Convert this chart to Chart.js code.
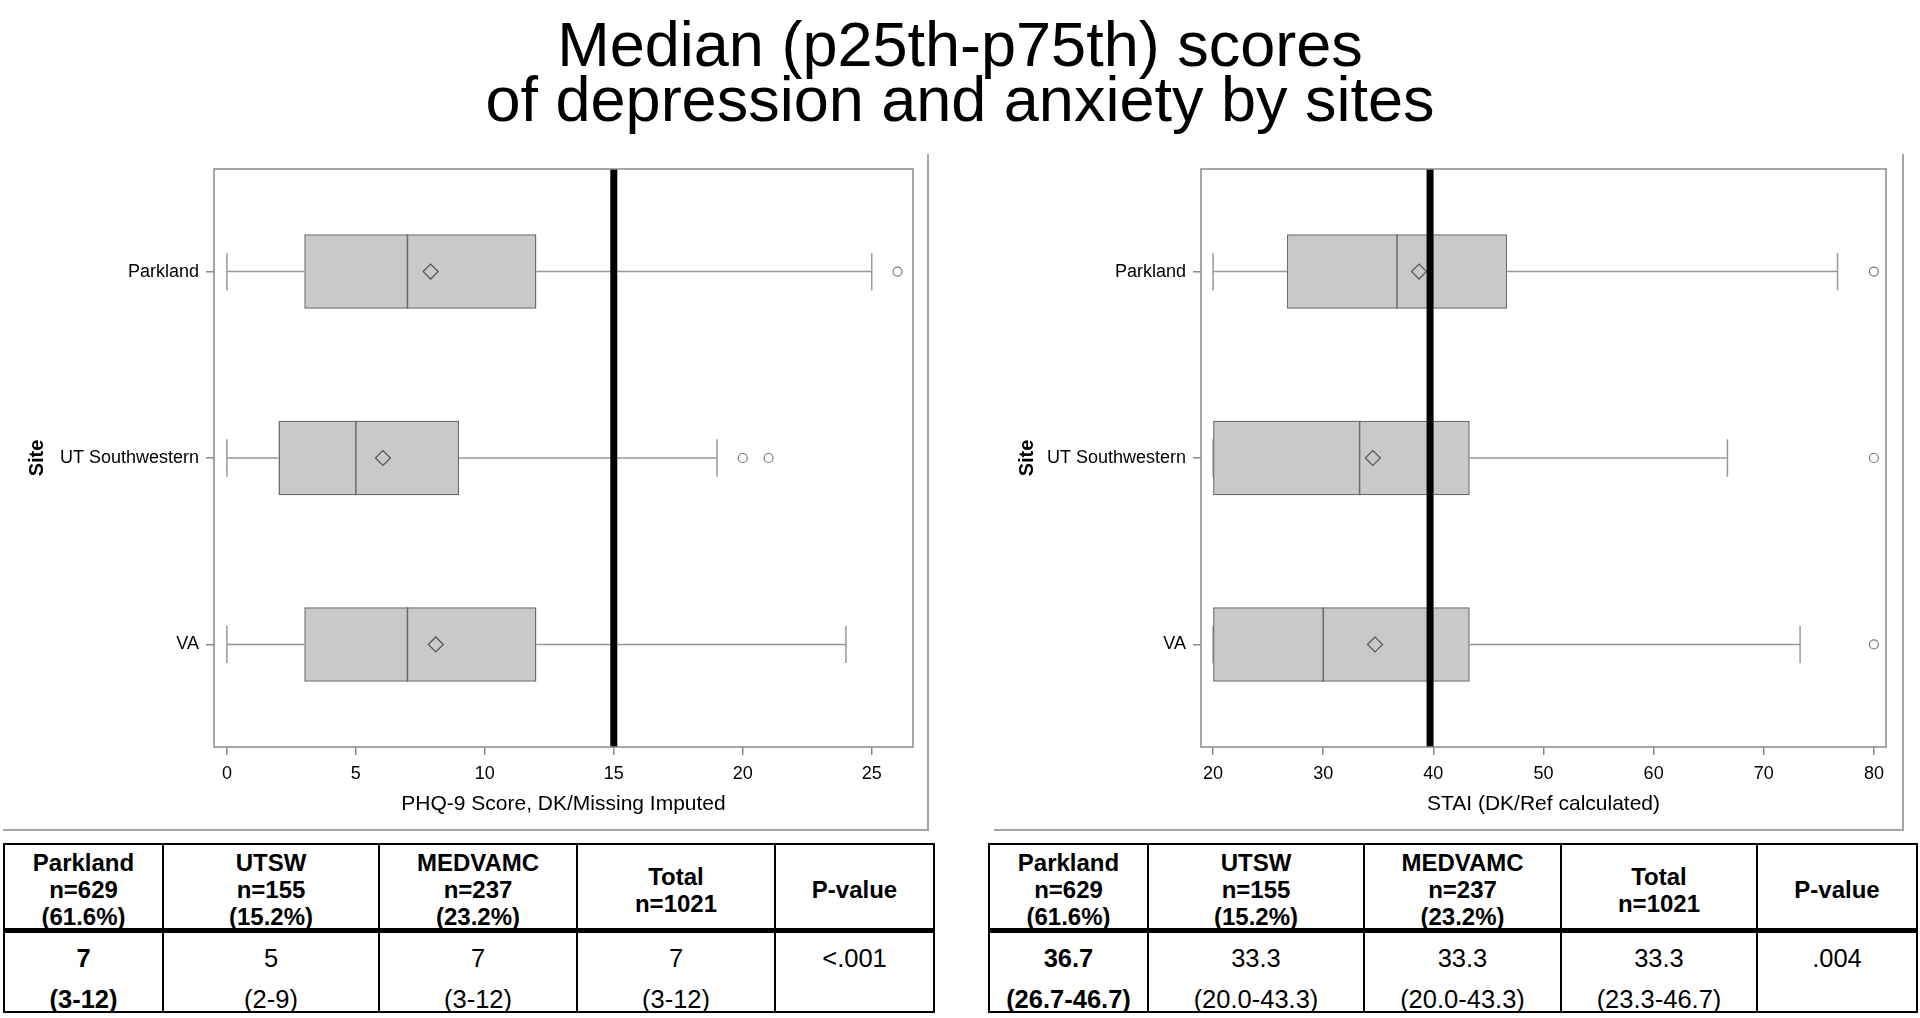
<!DOCTYPE html>
<html lang="en">
<head>
  <meta charset="UTF-8">
  <title>Median (p25th-p75th) scores of depression and anxiety by sites</title>
  <script src="https://cdn.jsdelivr.net/npm/chart.js"></script>
  <style>
    html, body {
      margin: 0;
      padding: 0;
      background: #fff;
    }

    body {
      position: relative;
      width: 1920px;
      height: 1018px;
      overflow: hidden;
      font-family: "Liberation Sans", Arial, sans-serif;
      color: #000;
    }

    .title {
      position: absolute;
      left: 0;
      top: 17px;
      width: 1920px;
      text-align: center;
      font-size: 63px;
      line-height: 55px;
    }

    canvas {
      position: absolute;
      top: 0;
    }

    .rule {
      position: absolute;
      background: #a4a4a4;
    }

    table {
      position: absolute;
      top: 843px;
      border-collapse: collapse;
      table-layout: fixed;
      text-align: center;
    }

    th, td {
      border: 2px solid #000;
      padding: 0;
    }

    thead tr {
      border-bottom: 5px solid #000;
    }

    .head {
      box-sizing: border-box;
      height: 83px;
      padding-top: 6px;
      display: flex;
      flex-direction: column;
      justify-content: center;
      font-size: 24px;
      line-height: 27px;
      font-weight: bold;
    }

    .body {
      box-sizing: border-box;
      height: 78px;
      padding-top: 13px;
      font-size: 25.5px;
      line-height: 24px;
      font-weight: normal;
    }

    .body .rng { margin-top: 17px; }
    .body.first { font-weight: bold; }
  </style>
</head>
<body>
<div class="title">Median (p25th-p75th) scores<br>of depression and anxiety by sites</div>

<canvas id="phqChart" width="960" height="840" style="left:0"></canvas>
<canvas id="staiChart" width="960" height="840" style="left:960px"></canvas>

<!-- panel edges -->
<div class="rule" style="left:927px;top:154px;width:2px;height:677px"></div>
<div class="rule" style="left:3px;top:829px;width:926px;height:2px"></div>
<div class="rule" style="left:1902px;top:154px;width:2px;height:677px"></div>
<div class="rule" style="left:994px;top:829px;width:910px;height:2px"></div>

<table id="phqTable" style="left:3px;width:930px">
  <colgroup><col style="width:159px"><col style="width:216px"><col style="width:198px"><col style="width:198px"><col style="width:159px"></colgroup>
</table>
<table id="staiTable" style="left:988px;width:928px">
  <colgroup><col style="width:159px"><col style="width:216px"><col style="width:197px"><col style="width:196px"><col style="width:160px"></colgroup>
</table>

<script>
  const FONT = '"Liberation Sans", Arial, sans-serif';

  const sites = ['Parkland', 'UT Southwestern', 'VA'];

  // PHQ-9 box plot (left)
  const phqLow = [0, 0, 0];
  const phqQ1 = [3, 2, 3];
  const phqMedian = [7, 5, 7];
  const phqQ3 = [12, 9, 12];
  const phqHigh = [25, 19, 24];
  const phqMean = [7.9, 6.05, 8.1];
  const phqOutliers = [[26], [20, 21], []];
  const phqCutoff = 15;
  const phqTicks = [0, 5, 10, 15, 20, 25];

  // STAI box plot (right)
  const staiLow = [20, 20, 20];
  const staiQ1 = [26.7, 20, 20];
  const staiMedian = [36.7, 33.3, 30];
  const staiQ3 = [46.7, 43.3, 43.3];
  const staiHigh = [76.7, 66.7, 73.3];
  const staiMean = [38.7, 34.5, 34.7];
  const staiOutliers = [[80], [80], [80]];
  const staiCutoff = 39.7;
  const staiTicks = [20, 30, 40, 50, 60, 70, 80];

  // tables under the plots
  const tableHeads = [
    ['Parkland', 'n=629', '(61.6%)'],
    ['UTSW', 'n=155', '(15.2%)'],
    ['MEDVAMC', 'n=237', '(23.2%)'],
    ['Total', 'n=1021'],
    ['P-value']
  ];
  const phqMedianCells = ['7', '5', '7', '7'];
  const phqRangeCells = ['(3-12)', '(2-9)', '(3-12)', '(3-12)'];
  const phqPValue = '<.001';
  const staiMedianCells = ['36.7', '33.3', '33.3', '33.3'];
  const staiRangeCells = ['(26.7-46.7)', '(20.0-43.3)', '(20.0-43.3)', '(23.3-46.7)'];
  const staiPValue = '.004';

  function boxPlot(canvasId, d) {
    const outlierPts = [];
    d.outliers.forEach((list, i) => list.forEach(v => outlierPts.push({x: v, y: i})));

    const extras = {
      id: 'boxExtras',
      beforeDatasetsDraw(chart) {
        const {ctx, scales: {x, y}} = chart;
        const cap = Math.abs(y.getPixelForValue(0.1) - y.getPixelForValue(0));
        ctx.save();
        ctx.strokeStyle = '#999';
        ctx.lineWidth = 1.5;
        ctx.beginPath();
        sites.forEach((s, i) => {
          const py = y.getPixelForValue(i);
          const xl = x.getPixelForValue(d.low[i]);
          const xh = x.getPixelForValue(d.high[i]);
          ctx.moveTo(xl, py);
          ctx.lineTo(x.getPixelForValue(d.q1[i]), py);
          ctx.moveTo(x.getPixelForValue(d.q3[i]), py);
          ctx.lineTo(xh, py);
          ctx.moveTo(xl, py - cap);
          ctx.lineTo(xl, py + cap);
          ctx.moveTo(xh, py - cap);
          ctx.lineTo(xh, py + cap);
        });
        ctx.stroke();
        ctx.restore();
      },
      afterDatasetDraw(chart, args) {
        if (args.index !== 0) return;
        // median line inside each box
        const {ctx, scales: {x, y}} = chart;
        const half = Math.abs(y.getPixelForValue(0.2) - y.getPixelForValue(0));
        ctx.save();
        ctx.strokeStyle = '#6b6b6b';
        ctx.lineWidth = 1.5;
        ctx.beginPath();
        sites.forEach((s, i) => {
          const px = x.getPixelForValue(d.median[i]);
          const py = y.getPixelForValue(i);
          ctx.moveTo(px, py - half);
          ctx.lineTo(px, py + half);
        });
        ctx.stroke();
        ctx.restore();
      },
      afterDatasetsDraw(chart) {
        const {ctx, chartArea: a, scales: {x}} = chart;
        ctx.save();
        // cut-off line
        const cx = x.getPixelForValue(d.cutoff);
        ctx.strokeStyle = '#000';
        ctx.lineWidth = 7;
        ctx.beginPath();
        ctx.moveTo(cx, a.top);
        ctx.lineTo(cx, a.bottom);
        ctx.stroke();
        // plot frame
        ctx.strokeStyle = '#8a8a8a';
        ctx.lineWidth = 1.5;
        ctx.strokeRect(a.left, a.top, a.right - a.left, a.bottom - a.top);
        ctx.restore();
      }
    };

    return new Chart(document.getElementById(canvasId), {
      type: 'bar',
      data: {
        datasets: [{
          type: 'bar',
          order: 3,
          data: sites.map((s, i) => ({x: [d.q1[i], d.q3[i]], y: i})),
          backgroundColor: '#c9c9c9',
          borderColor: '#6b6b6b',
          borderWidth: 1.5,
          borderSkipped: false,
          barPercentage: 0.4,
          categoryPercentage: 1
        }, {
          type: 'scatter',
          order: 1,
          data: sites.map((s, i) => ({x: d.mean[i], y: i})),
          pointStyle: 'rectRot',
          pointRadius: 7.5,
          borderColor: '#555',
          borderWidth: 1.2,
          backgroundColor: 'rgba(0,0,0,0)'
        }, {
          type: 'scatter',
          order: 2,
          data: outlierPts,
          pointStyle: 'circle',
          pointRadius: 4.5,
          borderColor: '#777',
          borderWidth: 1.2,
          backgroundColor: '#fff'
        }]
      },
      options: {
        indexAxis: 'y',
        responsive: false,
        animation: false,
        devicePixelRatio: 1,
        layout: { padding: { top: 169, right: d.padRight, bottom: 0, left: 0 } },
        plugins: { legend: { display: false }, tooltip: { enabled: false } },
        scales: {
          x: {
            type: 'linear',
            offset: false,
            min: d.xMin,
            max: d.xMax,
            afterBuildTicks: s => { s.ticks = d.ticks.map(v => ({value: v})); },
            afterFit: s => { s.height = 93; },
            border: { display: false },
            grid: { offset: false, drawOnChartArea: false, tickLength: 8, color: '#8a8a8a', lineWidth: 1.5 },
            ticks: { color: '#000', padding: 8, maxRotation: 0, autoSkip: false, font: { family: FONT, size: 18 } },
            title: { display: true, text: d.xTitle, color: '#000', font: { family: FONT, size: 21 }, padding: { top: 0, bottom: 23 } }
          },
          y: {
            type: 'linear',
            offset: false,
            reverse: true,
            min: -0.55,
            max: 2.55,
            afterBuildTicks: s => { s.ticks = sites.map((c, i) => ({value: i})); },
            afterFit: s => { s.width = d.axisWidth; },
            border: { display: false },
            grid: { offset: false, drawOnChartArea: false, tickLength: 8, color: '#8a8a8a', lineWidth: 1.5 },
            ticks: { color: '#000', padding: 7, callback: v => sites[v], font: { family: FONT, size: 18 } },
            title: { display: true, text: 'Site', color: '#000', font: { family: FONT, size: 20, weight: 'bold' }, padding: { top: d.titlePad, bottom: 0 } }
          }
        }
      },
      plugins: [extras]
    });
  }

  boxPlot('phqChart', {
    low: phqLow, q1: phqQ1, median: phqMedian, q3: phqQ3, high: phqHigh,
    mean: phqMean, outliers: phqOutliers, cutoff: phqCutoff, ticks: phqTicks,
    xMin: -0.5, xMax: 26.6, xTitle: 'PHQ-9 Score, DK/Missing Imputed',
    axisWidth: 214, padRight: 47, titlePad: 25
  });

  boxPlot('staiChart', {
    low: staiLow, q1: staiQ1, median: staiMedian, q3: staiQ3, high: staiHigh,
    mean: staiMean, outliers: staiOutliers, cutoff: staiCutoff, ticks: staiTicks,
    xMin: 18.9, xMax: 81.1, xTitle: 'STAI (DK/Ref calculated)',
    axisWidth: 241, padRight: 34, titlePad: 55
  });

  function fillTable(id, medians, ranges, pValue) {
    const table = document.getElementById(id);
    const thead = document.createElement('thead');
    const hr = document.createElement('tr');
    tableHeads.forEach(lines => {
      const th = document.createElement('th');
      const box = document.createElement('div');
      box.className = 'head';
      lines.forEach(t => {
        const line = document.createElement('div');
        line.textContent = t;
        box.appendChild(line);
      });
      th.appendChild(box);
      hr.appendChild(th);
    });
    thead.appendChild(hr);
    table.appendChild(thead);

    const tbody = document.createElement('tbody');
    const br = document.createElement('tr');
    const cells = medians.map((m, i) => [m, ranges[i]]).concat([[pValue]]);
    cells.forEach((parts, i) => {
      const td = document.createElement('td');
      const box = document.createElement('div');
      box.className = i === 0 ? 'body first' : 'body';
      parts.forEach((t, k) => {
        const line = document.createElement('div');
        if (k === 1) line.className = 'rng';
        line.textContent = t;
        box.appendChild(line);
      });
      td.appendChild(box);
      br.appendChild(td);
    });
    tbody.appendChild(br);
    table.appendChild(tbody);
  }

  fillTable('phqTable', phqMedianCells, phqRangeCells, phqPValue);
  fillTable('staiTable', staiMedianCells, staiRangeCells, staiPValue);
</script>
</body>
</html>
